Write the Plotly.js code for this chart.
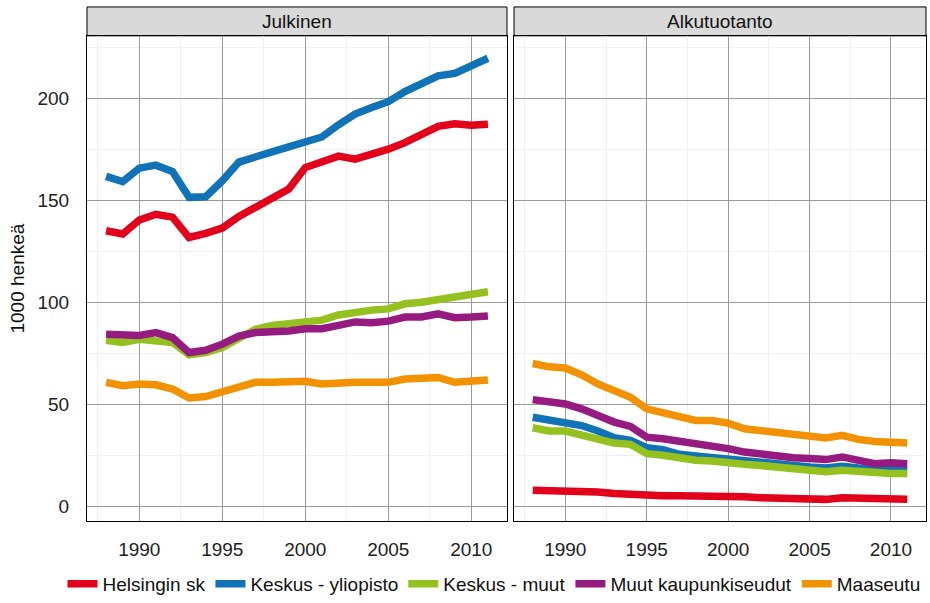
<!DOCTYPE html>
<html>
<head>
<meta charset="utf-8">
<script src="https://cdn.plot.ly/plotly-3.0.1.min.js"></script>
<style>html,body{margin:0;padding:0;background:#fff;}#chart{width:930px;height:603px;}</style>
</head>
<body>
<div id="chart"></div>
<script>
const years = [1988,1989,1990,1991,1992,1993,1994,1995,1996,1997,1998,1999,2000,2001,2002,2003,2004,2005,2006,2007,2008,2009,2010,2011];
const seriesNames = ["Helsingin sk","Keskus - yliopisto","Keskus - muut","Muut kaupunkiseudut","Maaseutu"];
const panelNames = ["Julkinen","Alkutuotanto"];

// Julkinen
const julkinenHelsinki = [135.3,133.7,140.6,143.4,142,132,134,136.6,142.3,147,152,155.8,166.3,168.8,171.9,170.4,172.7,175.3,178.5,182,186.5,187.8,187,187.5];
const julkinenYliopisto = [162,159.4,166,167.5,164.4,151.7,152,159.8,169,171.9,174,176.4,179.2,181.3,187.3,192.5,195.8,198.6,203.6,207.5,211.3,212.5,216.2,219.9];
const julkinenMuut = [81.6,80.5,82.1,81.6,80.5,74.5,75.6,78,82.1,87,88.9,89.8,90.6,91.5,94,95.4,96.4,97,99.5,100.3,101.6,102.4,103.7,105.4];
const julkinenKaupunki = [84.6,84,84,85.4,82.9,75.6,76.7,79.7,83.7,85.4,85.7,86.2,87.3,87.3,88.9,90.6,90.2,91,93,93,94.6,92.7,93,93.5];
const julkinenMaaseutu = [61,59.3,60.2,59.8,57.7,53.3,54,56.4,59.3,61,61,61,61.5,60.2,61,61,61,61,62.6,62.6,63.4,61,61.3,62.1];

// Alkutuotanto
const alkuHelsinki = [8.1,8.1,8.1,7.6,7.2,6.5,5.9,5.4,5.4,5.4,5.4,4.9,4.9,4.9,4.4,4.2,4.2,4.2,3.6,4.4,4.4,3.6,4.2,3.6];
const alkuYliopisto = [43.9,42.6,41.5,39.8,37.1,33.8,32.5,28.9,28,25.7,24.9,24,23.6,22.4,21.5,20.8,20.3,19.5,19,19.8,19,18.7,18.4,18.2];
const alkuMuut = [38.7,37.1,37.1,35.4,33.8,31.2,30.6,26,25.2,23.6,22.8,22.4,22,20.8,20.2,19.5,19,18.2,17.1,17.9,17.1,16.3,16.3,16.3];
const alkuKaupunki = [52.5,51.2,50.4,48,44.7,41.5,39.4,34.1,33.3,32.2,30.9,29.8,28.5,26.8,25.7,25.2,24,23.6,23.1,24.4,22.4,21.1,21.5,21.1];
const alkuMaaseutu = [70.2,68.6,68,64.7,60.2,56.9,53.7,48,45.9,43.9,42.3,42.3,41,38.2,37.4,36.3,35,34.1,33.7,35,33,32,32,31.2];

const xTickVals = [1990,1995,2000,2005,2010];
const yTickVals = [0,50,100,150,200];
const yTitle = "1000 henkeä";

const colors = ["#e2001a","#1072b7","#95c11f","#951b81","#f39200"];
const panels = [
  [julkinenHelsinki, julkinenYliopisto, julkinenMuut, julkinenKaupunki, julkinenMaaseutu],
  [alkuHelsinki, alkuYliopisto, alkuMuut, alkuKaupunki, alkuMaaseutu]
];

const FONT = "'Liberation Sans', Arial, sans-serif";
const FS = 19;
const traces = [];
panels.forEach((panel, p) => {
  panel.forEach((vals, i) => {
    traces.push({
      x: years, y: vals, type: "scatter", mode: "lines",
      name: seriesNames[i], legendgroup: seriesNames[i], showlegend: p === 0,
      xaxis: p === 0 ? "x" : "x2", yaxis: p === 0 ? "y" : "y2",
      line: {color: colors[i], width: 7.5}
    });
  });
});

const xDomL = [87/930, 507/930], xDomR = [514/930, 926/930];
const yDom = [(603-524)/603, (603-36)/603];
const stripTop = (603-7)/603;

function xAxis(domain, anchor) {
  return {
    domain: domain, anchor: anchor, range: [1986.85, 2012.15],
    tickvals: xTickVals, ticktext: xTickVals.map(String),
    showgrid: true, gridcolor: "#9a9a9a", gridwidth: 1,
    minor: {dtick: 2.5, tick0: 1987.5, showgrid: true, gridcolor: "#f0f0f0", gridwidth: 1},
    zeroline: false, showline: true, mirror: true, linecolor: "#000", linewidth: 1,
    ticks: "", ticklabelstandoff: 11,
    tickfont: {family: FONT, size: FS, color: "#222"}
  };
}
function yAxis(domain, anchor, showLabels) {
  return {
    domain: domain, anchor: anchor, range: [-7.2, 230.9],
    tickvals: yTickVals, showticklabels: showLabels,
    showgrid: true, gridcolor: "#9a9a9a", gridwidth: 1,
    minor: {dtick: 25, tick0: 25, showgrid: true, gridcolor: "#f0f0f0", gridwidth: 1},
    zeroline: false, showline: true, mirror: true, linecolor: "#000", linewidth: 1,
    ticks: "", ticklabelstandoff: 13,
    tickfont: {family: FONT, size: FS, color: "#222"}
  };
}

const layout = {
  width: 930, height: 603,
  margin: {l: 0, r: 0, t: 0, b: 0},
  paper_bgcolor: "#fff", plot_bgcolor: "#fff",
  showlegend: true,
  font: {family: FONT, size: FS, color: "#111"},
  xaxis: xAxis(xDomL, "y"),
  yaxis: Object.assign(yAxis(yDom, "x", true), {title: {text: yTitle, font: {family: FONT, size: FS, color: "#111"}, standoff: 7}}),
  xaxis2: xAxis(xDomR, "y2"),
  yaxis2: yAxis(yDom, "x2", false),
  legend: {orientation: "h", x: 494/930, xanchor: "center", y: 0.027, yanchor: "middle",
           font: {family: FONT, size: FS, color: "#111"}, itemwidth: 30, tracegroupgap: 0},
  shapes: [
    {type: "rect", xref: "paper", yref: "paper", x0: xDomL[0], x1: xDomL[1], y0: yDom[1], y1: stripTop,
     fillcolor: "#d9d9d9", line: {color: "#000", width: 1}, layer: "below"},
    {type: "rect", xref: "paper", yref: "paper", x0: xDomR[0], x1: xDomR[1], y0: yDom[1], y1: stripTop,
     fillcolor: "#d9d9d9", line: {color: "#000", width: 1}, layer: "below"}
  ],
  annotations: [
    {text: panelNames[0], xref: "paper", yref: "paper", x: (xDomL[0]+xDomL[1])/2, y: (yDom[1]+stripTop)/2,
     showarrow: false, xanchor: "center", yanchor: "middle", font: {family: FONT, size: FS, color: "#111"}},
    {text: panelNames[1], xref: "paper", yref: "paper", x: (xDomR[0]+xDomR[1])/2, y: (yDom[1]+stripTop)/2,
     showarrow: false, xanchor: "center", yanchor: "middle", font: {family: FONT, size: FS, color: "#111"}}
  ]
};

Plotly.newPlot("chart", traces, layout, {staticPlot: true, displayModeBar: false});
</script>
</body>
</html>
